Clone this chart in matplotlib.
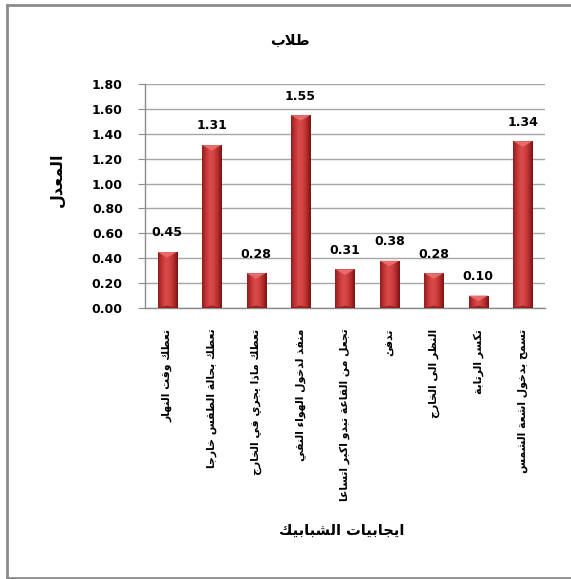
import numpy as np
import matplotlib
matplotlib.use("Agg")
import matplotlib.pyplot as plt
from matplotlib.patches import Polygon
from matplotlib.lines import Line2D
from matplotlib.colors import LinearSegmentedColormap

# ---- data ----
categories = [
    "تعطك وقت النهار",
    "تعطك بحالة الطقس خارجا",
    "تعطك ماذا يجري في الخارج",
    "منفذ لدخول الهواء النقي",
    "تجعل من القاعة تبدو اكبر اتساعا",
    "تدفئ",
    "النظر الى الخارج",
    "تكسر الرتابة",
    "تسمح بدخول اشعة الشمس",
]
values = [0.45, 1.31, 0.28, 1.55, 0.31, 0.38, 0.28, 0.10, 1.34]
title_text = "طلاب"
x_title = "ايجابيات الشبابيك"
y_title = "المعدل"
y_ticks = [0.0, 0.2, 0.4, 0.6, 0.8, 1.0, 1.2, 1.4, 1.6, 1.8]

# ---- minimal Arabic shaping (presentation forms + visual order) ----
FORMS = {
    'ء': (0xFE80, None, None, None),
    'آ': (0xFE81, 0xFE82, None, None),
    'أ': (0xFE83, 0xFE84, None, None),
    'ؤ': (0xFE85, 0xFE86, None, None),
    'إ': (0xFE87, 0xFE88, None, None),
    'ئ': (0xFE89, 0xFE8A, 0xFE8B, 0xFE8C),
    'ا': (0xFE8D, 0xFE8E, None, None),
    'ب': (0xFE8F, 0xFE90, 0xFE91, 0xFE92),
    'ة': (0xFE93, 0xFE94, None, None),
    'ت': (0xFE95, 0xFE96, 0xFE97, 0xFE98),
    'ث': (0xFE99, 0xFE9A, 0xFE9B, 0xFE9C),
    'ج': (0xFE9D, 0xFE9E, 0xFE9F, 0xFEA0),
    'ح': (0xFEA1, 0xFEA2, 0xFEA3, 0xFEA4),
    'خ': (0xFEA5, 0xFEA6, 0xFEA7, 0xFEA8),
    'د': (0xFEA9, 0xFEAA, None, None),
    'ذ': (0xFEAB, 0xFEAC, None, None),
    'ر': (0xFEAD, 0xFEAE, None, None),
    'ز': (0xFEAF, 0xFEB0, None, None),
    'س': (0xFEB1, 0xFEB2, 0xFEB3, 0xFEB4),
    'ش': (0xFEB5, 0xFEB6, 0xFEB7, 0xFEB8),
    'ص': (0xFEB9, 0xFEBA, 0xFEBB, 0xFEBC),
    'ض': (0xFEBD, 0xFEBE, 0xFEBF, 0xFEC0),
    'ط': (0xFEC1, 0xFEC2, 0xFEC3, 0xFEC4),
    'ظ': (0xFEC5, 0xFEC6, 0xFEC7, 0xFEC8),
    'ع': (0xFEC9, 0xFECA, 0xFECB, 0xFECC),
    'غ': (0xFECD, 0xFECE, 0xFECF, 0xFED0),
    'ف': (0xFED1, 0xFED2, 0xFED3, 0xFED4),
    'ق': (0xFED5, 0xFED6, 0xFED7, 0xFED8),
    'ك': (0xFED9, 0xFEDA, 0xFEDB, 0xFEDC),
    'ل': (0xFEDD, 0xFEDE, 0xFEDF, 0xFEE0),
    'م': (0xFEE1, 0xFEE2, 0xFEE3, 0xFEE4),
    'ن': (0xFEE5, 0xFEE6, 0xFEE7, 0xFEE8),
    'ه': (0xFEE9, 0xFEEA, 0xFEEB, 0xFEEC),
    'و': (0xFEED, 0xFEEE, None, None),
    'ى': (0xFEEF, 0xFEF0, None, None),
    'ي': (0xFEF1, 0xFEF2, 0xFEF3, 0xFEF4),
}
LAM_ALEF = {'آ': (0xFEF5, 0xFEF6), 'أ': (0xFEF7, 0xFEF8),
            'إ': (0xFEF9, 0xFEFA), 'ا': (0xFEFB, 0xFEFC)}


def joins_next(ch):
    return ch in FORMS and FORMS[ch][2] is not None


def shape(text):
    chars = list(text)
    out = []
    i = 0
    n = len(chars)
    while i < n:
        ch = chars[i]
        if ch not in FORMS:
            out.append(ch)
            i += 1
            continue
        prev = chars[i - 1] if i > 0 else None
        join_prev = prev is not None and joins_next(prev)
        if ch == 'ل' and i + 1 < n and chars[i + 1] in LAM_ALEF:
            iso, fin = LAM_ALEF[chars[i + 1]]
            out.append(chr(fin if join_prev else iso))
            i += 2
            continue
        nxt = chars[i + 1] if i + 1 < n else None
        join_next = joins_next(ch) and nxt is not None and nxt in FORMS
        iso, fin, ini, med = FORMS[ch]
        if join_prev and join_next:
            code = med
        elif join_prev:
            code = fin if fin is not None else iso
        elif join_next:
            code = ini
        else:
            code = iso
        out.append(chr(code))
        i += 1
    return "".join(reversed(out))


# ---- figure ----
W, H = 571, 579
fig = plt.figure(figsize=(W / 100, H / 100), dpi=100)
fig.patch.set_facecolor("white")

# outer chart frame: left, top and bottom edges (the right edge runs off the image)
fx0, fy_top, fy_bot = 7 / W, 1 - 5 / H, 1 - 578 / H
for xd, yd in [([fx0, fx0], [fy_bot, fy_top]),
               ([fx0, 1.05], [fy_top, fy_top]),
               ([fx0, 1.05], [fy_bot, fy_bot])]:
    fig.add_artist(Line2D(xd, yd, transform=fig.transFigure,
                          color="#8c8c8c", lw=2.0, zorder=0))

ax = fig.add_axes([145 / W, 1 - 308 / H, 400 / W, 224 / H])
ax.set_xlim(-0.5, len(values) - 0.5)
ax.set_ylim(0, 1.8)
ax.set_facecolor("white")

for s in ["top", "right"]:
    ax.spines[s].set_visible(False)
ax.spines["left"].set_color("#8c8c8c")
ax.spines["bottom"].set_color("#8c8c8c")
ax.spines["left"].set_linewidth(1.0)
ax.spines["bottom"].set_linewidth(1.0)

ax.set_yticks(y_ticks)
ax.set_yticklabels([f"{t:.2f}" for t in y_ticks],
                   fontsize=9, fontweight="bold", family="DejaVu Sans")
ax.tick_params(axis="y", direction="out", length=5, color="#8c8c8c", pad=11)
ax.yaxis.grid(True, color="#a6a6a6", lw=1.0)
ax.set_axisbelow(True)

xs = np.arange(len(values))
ax.set_xticks(xs)
ax.set_xticklabels([shape(c) for c in categories], rotation=90,
                   fontsize=7.8, fontweight="bold", family="DejaVu Sans",
                   va="top", ha="center")
ax.tick_params(axis="x", length=0, pad=15)

# bars with a horizontal cylinder-like gradient
bar_w = 0.43
cmap = LinearSegmentedColormap.from_list(
    "barred", ["#8e1c1c", "#c43636", "#da4c4c", "#d14242", "#b42c2c", "#7a1212"])
grad = np.linspace(0, 1, 64).reshape(1, -1)
bars = ax.bar(xs, values, width=bar_w, color="none", edgecolor="none", zorder=3)
for x, v, b in zip(xs, values, bars):
    x0, x1 = x - bar_w / 2, x + bar_w / 2
    im = ax.imshow(grad, cmap=cmap, aspect="auto", extent=(x0, x1, 0, v),
                   zorder=3, interpolation="bicubic")
    im.set_clip_path(b)
    cap = min(0.045, v * 0.45)
    ax.add_patch(Polygon([(x0, v), (x1, v), (x, v - cap)], closed=True,
                         facecolor="#e86a6a", edgecolor="none", zorder=4))
    ax.add_patch(Polygon([(x0, 0), (x1, 0), (x, min(0.02, v * 0.2))], closed=True,
                         facecolor="#6e0f0f", edgecolor="none", alpha=0.6, zorder=4))
    ax.annotate(f"{v:.2f}", (x, v), xytext=(0, 9), textcoords="offset points",
                ha="center", va="bottom", fontsize=9, fontweight="bold",
                family="DejaVu Sans", zorder=5)

ax.set_xlim(-0.5, len(values) - 0.5)
ax.set_ylim(0, 1.8)

fig.text(290 / W, 1 - 40 / H, shape(title_text), ha="center", va="center",
         fontsize=10.5, fontweight="bold", family="DejaVu Sans")
fig.text(57 / W, 1 - 180 / H, shape(y_title), ha="center", va="center",
         rotation=90, fontsize=11.5, fontweight="bold", family="DejaVu Sans")
fig.text(342 / W, 1 - 530 / H, shape(x_title), ha="center", va="center",
         fontsize=10.5, fontweight="bold", family="DejaVu Sans")

fig.savefig("out.png", dpi=100, facecolor="white")
